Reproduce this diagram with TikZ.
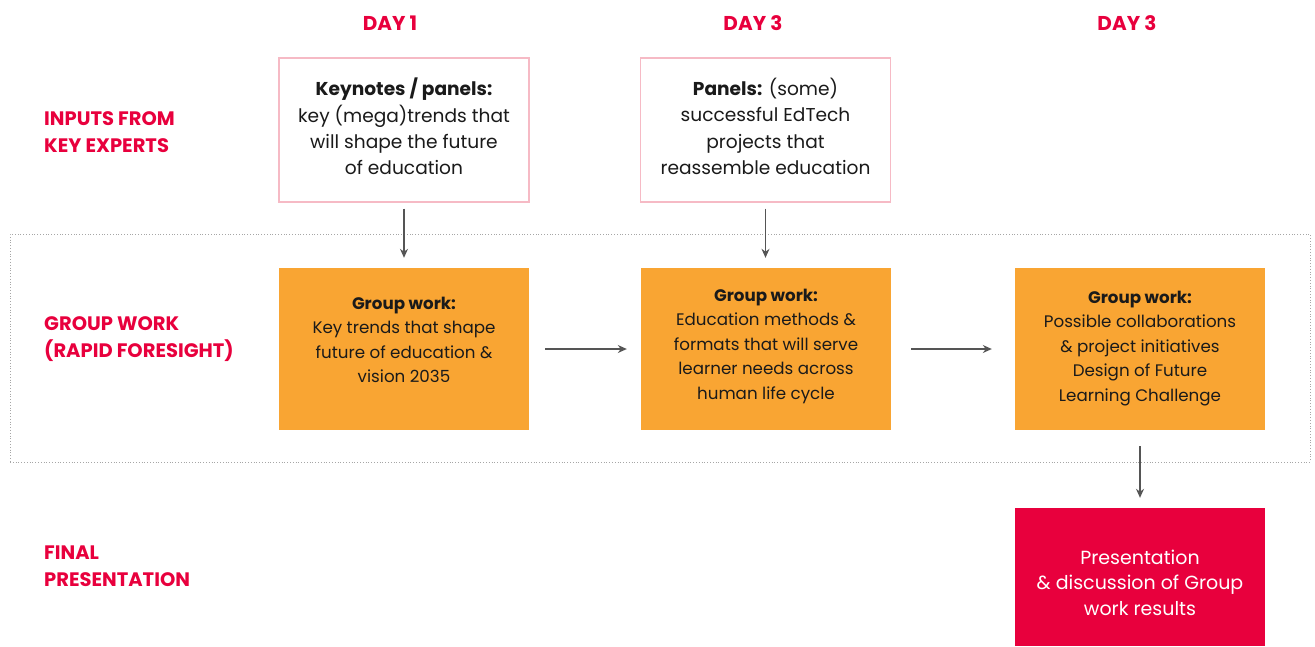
\documentclass[tikz,border=0pt]{standalone}
\usepackage{fontspec}
\setmainfont{Poppins}
\usetikzlibrary{arrows.meta}
\definecolor{crimson}{HTML}{E8003D}
\definecolor{orng}{HTML}{F9A533}
\definecolor{pinkb}{HTML}{F6BAC5}
\definecolor{arrowgray}{HTML}{555555}
\definecolor{txt}{HTML}{1A1A1A}
\tikzset{
  lbl/.style={text=crimson, font=\fontsize{19.5}{27}\selectfont\bfseries, align=left, anchor=west, inner sep=0pt},
  daylbl/.style={text=crimson, font=\fontsize{20}{24}\selectfont\bfseries, inner sep=0pt},
  inbox/.style={draw=pinkb, line width=1.3pt, fill=white, minimum width=250pt, minimum height=144pt, inner sep=0pt},
  intext/.style={text=txt, align=center, font=\fontsize{18.6}{26.3}\selectfont, inner sep=0pt},
  gwbox/.style={fill=orng, minimum width=250pt, minimum height=162pt, inner sep=0pt},
  gwtext/.style={text=txt, align=center, font=\fontsize{16.7}{24.5}\selectfont, inner sep=0pt},
  redbox/.style={fill=crimson, minimum width=250pt, minimum height=138pt, inner sep=0pt},
  redtext/.style={text=white, align=center, font=\fontsize{19}{25.5}\selectfont, inner sep=0pt},
  grp/.style={draw=gray!70, dotted, line width=0.8pt, minimum width=1300pt, minimum height=228pt, inner sep=0pt},
  conn/.style={draw=arrowgray, line width=1.2pt, -{Stealth[length=9pt,width=8pt]}}
}
\begin{document}
\begin{tikzpicture}[x=1pt,y=-1pt]
\useasboundingbox (0,0) rectangle (1315,646);
\node[grp] (group) at (660,348) {};
% day labels
\node[daylbl] (d1) at (390,23) {DAY 1};
\node[daylbl] (d2) at (753,23) {DAY 3};
\node[daylbl] (d3) at (1127,23) {DAY 3};
% row labels
\node[lbl] (l1) at (44,132) {INPUTS FROM\\KEY EXPERTS};
\node[lbl] (l2) at (44,339) {GROUP WORK\\(RAPID FORESIGHT)};
\node[lbl] (l3) at (44,566) {FINAL\\PRESENTATION};
% input boxes
\node[inbox] (in1) at (404,130) {};
\node[intext] (in1t) at (404,126.5) {\textbf{Keynotes / panels:}\\key (mega)trends that\\will shape the future\\of education};
\node[inbox] (in2) at (765.5,130) {};
\node[intext] (in2t) at (765.5,126.5) {\textbf{Panels:} (some)\\successful EdTech\\projects that\\reassemble education};
% group work boxes
\node[gwbox] (g1) at (404,349) {};
\node[gwtext] (g1t) at (404,340) {\textbf{Group work:}\\Key trends that shape\\future of education \&\\vision 2035};
\node[gwbox] (g2) at (766,349) {};
\node[gwtext] (g2t) at (766,346) {\textbf{Group work:}\\Education methods \&\\formats that will serve\\learner needs across\\human life cycle};
\node[gwbox] (g3) at (1140,349) {};
\node[gwtext] (g3t) at (1140,348.5) {\textbf{Group work:}\\Possible collaborations\\\& project initiatives\\Design of Future\\Learning Challenge};
% final
\node[redbox] (fin) at (1140,577) {};
\node[redtext] (fint) at (1140,582.5) {Presentation\\\& discussion of Group\\work results};
% connectors
\draw[conn, shorten <=6pt, shorten >=10pt] (in1) -- (g1);
\draw[conn, shorten <=6pt, shorten >=10pt] (in2.south) -- (in2.south |- g2.north);
\draw[conn, shorten <=16pt, shorten >=14pt] (g1) -- (g2);
\draw[conn, shorten <=20pt, shorten >=23pt] (g2) -- (g3);
\draw[conn, shorten <=16pt, shorten >=10pt] (g3) -- (fin);
\end{tikzpicture}
\end{document}
